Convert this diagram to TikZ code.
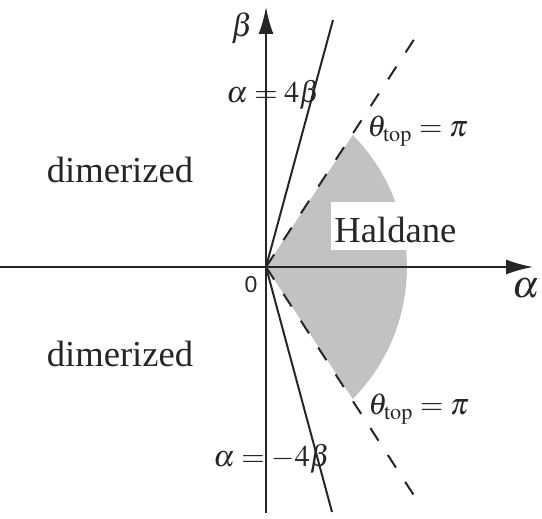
\documentclass[tikz,border=0pt]{standalone}
\usepackage{mathptmx}
\usepackage{fontspec}
\setmainfont{Liberation Serif}
\setsansfont{Liberation Sans}
\usetikzlibrary{arrows.meta}
\begin{document}
\begin{tikzpicture}[x=0.5pt,y=0.5pt,
  axis/.style={line width=1pt, draw=black!85, -{Latex[length=13.5pt,width=7.5pt]}},
  bound/.style={line width=1pt, draw=black!85},
  dashbound/.style={line width=1pt, draw=black!85, dash pattern=on 7.5pt off 8.5pt},
  lbl/.style={text=black!85, inner sep=0pt},
  wordfont/.style={font=\fontsize{18.3}{22}\selectfont},
  mathfont/.style={font=\fontsize{15}{18}\selectfont}]
\useasboundingbox (0,0) rectangle (542,519);
% key points
\coordinate (O) at (266,252);
\coordinate (P) at (352.8,384);
\coordinate (xl) at (0,252);
\coordinate (xr) at (533,252);
\coordinate (yb) at (266,6);
\coordinate (yt) at (266,512);
\coordinate (su) at (333,499);
\coordinate (sl) at (332,7);
\coordinate (du) at (415,481);
\coordinate (dl) at (415,22);
% Haldane region
\fill[black!24] (O) -- (P) arc[start angle=44.6, end angle=-44.6, radius=94pt] -- cycle;
\node[lbl, fill=white, inner xsep=1.5pt, text height=20.5pt, text depth=3.5pt,
      anchor=base west, wordfont] (hal) at (331,276) {Haldane};
% boundary lines
\draw[bound] (O) -- (su);
\draw[bound] (O) -- (sl);
\draw[dashbound] (O) -- (du);
\draw[dashbound] (O) -- (dl);
% axes
\draw[axis] (xl) -- (xr);
\draw[axis] (yb) -- (yt);
% labels
\node[lbl, anchor=base, wordfont] (d1) at (120,336) {dimerized};
\node[lbl, anchor=base, wordfont] (d2) at (120,152) {dimerized};
\node[lbl, anchor=base west, mathfont] (t1) at (367,382) {$\theta_{\mathrm{top}}=\pi$};
\node[lbl, anchor=base west, mathfont] (t2) at (368,104) {$\theta_{\mathrm{top}}=\pi$};
\node[lbl, anchor=base west, mathfont] (l1) at (226,416) {$\alpha=4\beta$};
\node[lbl, anchor=base west, mathfont] (l2) at (213,52) {$\alpha=-4\beta$};
\node[lbl, anchor=base west, font=\fontsize{16}{19}\selectfont] (bt) at (231,482) {$\beta$};
\node[lbl, anchor=base west, font=\fontsize{19}{23}\selectfont] (al) at (512,221) {$\alpha$};
\node[lbl, font=\sffamily\fontsize{11.5}{13}\selectfont] (zero) at (251,234) {0};
\end{tikzpicture}
\end{document}
